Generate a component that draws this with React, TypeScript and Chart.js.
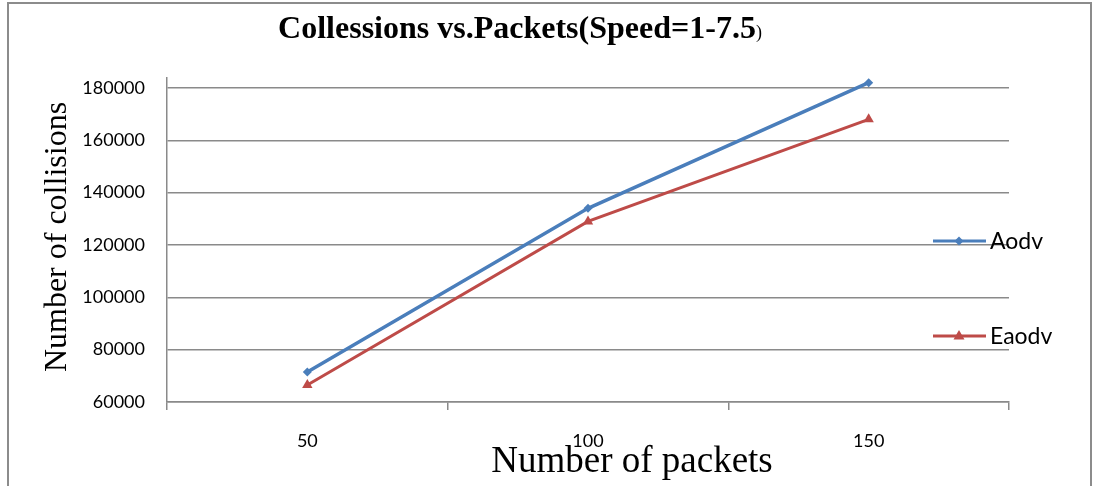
import React, { useEffect, useRef } from "react";
import { Chart, registerables } from "chart.js";

Chart.register(...registerables);

const categories = ["50", "100", "150"];
const aodvValues = [71500, 134000, 182000];
const eaodvValues = [66500, 129000, 168000];
const yTickValues = [60000, 80000, 100000, 120000, 140000, 160000, 180000];
const titleText = "Collessions vs.Packets(Speed=1-7.5";
const yTitle = "Number of collisions";
const xTitle = "Number of packets";
const seriesNames = ["Aodv", "Eaodv"];

const BLUE = "#4A7EBB";
const RED = "#BE4B48";
const GRID = "#8a8a8a";

const overlayPlugin = {
  id: "overlay",
  afterDraw(chart: any) {
    const ctx = chart.ctx;
    ctx.save();
    ctx.fillStyle = "#000";
    // Title
    ctx.font = "bold 32px 'Liberation Serif', 'Times New Roman', serif";
    ctx.textBaseline = "alphabetic";
    ctx.textAlign = "left";
    const w1 = ctx.measureText(titleText).width;
    ctx.font = "18px 'Liberation Serif', 'Times New Roman', serif";
    const w2 = ctx.measureText(")").width;
    const startX = 520 - (w1 + w2) / 2;
    ctx.font = "bold 32px 'Liberation Serif', 'Times New Roman', serif";
    ctx.fillText(titleText, startX, 38);
    ctx.font = "18px 'Liberation Serif', 'Times New Roman', serif";
    ctx.fillText(")", startX + w1, 38);

    // Y title
    ctx.save();
    ctx.translate(58, 237);
    ctx.rotate(-Math.PI / 2);
    ctx.textAlign = "center";
    ctx.textBaseline = "middle";
    ctx.font = "32px 'Liberation Serif', 'Times New Roman', serif";
    ctx.fillText(yTitle, 0, 0);
    ctx.restore();

    // X title
    ctx.textAlign = "center";
    ctx.textBaseline = "alphabetic";
    ctx.font = "37px 'Liberation Serif', 'Times New Roman', serif";
    ctx.fillText(xTitle, 632, 472);

    // Legend
    const items = [
      { name: seriesNames[0], color: BLUE, y: 241, shape: "diamond" },
      { name: seriesNames[1], color: RED, y: 336, shape: "triangle" },
    ];
    for (const it of items) {
      ctx.strokeStyle = it.color;
      ctx.lineWidth = 3;
      ctx.beginPath();
      ctx.moveTo(933, it.y);
      ctx.lineTo(986, it.y);
      ctx.stroke();
      ctx.fillStyle = it.color;
      ctx.beginPath();
      if (it.shape === "diamond") {
        ctx.moveTo(959, it.y - 4.5);
        ctx.lineTo(963.5, it.y);
        ctx.lineTo(959, it.y + 4.5);
        ctx.lineTo(954.5, it.y);
      } else {
        ctx.moveTo(959, it.y - 6);
        ctx.lineTo(964.5, it.y + 3.5);
        ctx.lineTo(953.5, it.y + 3.5);
      }
      ctx.closePath();
      ctx.fill();
      ctx.fillStyle = "#000";
      ctx.textAlign = "left";
      ctx.textBaseline = "middle";
      ctx.font = "23px Lato, 'Open Sans', sans-serif";
      ctx.fillText(it.name, 990, it.y + 1);
    }
    ctx.restore();
  },
};

export default function App() {
  const ref = useRef<HTMLCanvasElement | null>(null);
  useEffect(() => {
    if (!ref.current) return;
    const chart = new Chart(ref.current, {
      type: "line",
      data: {
        labels: categories,
        datasets: [
          {
            label: seriesNames[0],
            data: aodvValues,
            borderColor: BLUE,
            backgroundColor: BLUE,
            borderWidth: 3.5,
            pointStyle: "rectRot",
            pointRadius: 4.5,
            pointBorderWidth: 0,
            tension: 0,
          },
          {
            label: seriesNames[1],
            data: eaodvValues,
            borderColor: RED,
            backgroundColor: RED,
            borderWidth: 3,
            pointStyle: "triangle",
            pointRadius: 6,
            pointBorderWidth: 0,
            tension: 0,
          },
        ],
      },
      options: {
        responsive: false,
        animation: false,
        layout: { padding: { left: 0, right: 85, top: 78, bottom: 0 } },
        plugins: {
          legend: { display: false },
          title: { display: false },
          tooltip: { enabled: false },
        },
        scales: {
          x: {
            type: "category",
            offset: true,
            grid: {
              offset: true,
              drawOnChartArea: false,
              drawTicks: true,
              tickLength: 8,
              color: GRID,
              lineWidth: 1.5,
            },
            border: { display: true, color: GRID, width: 1.5 },
            ticks: {
              padding: 20,
              color: "#000",
              font: { family: "Lato, 'Open Sans', sans-serif", size: 18 },
              maxRotation: 0,
            },
            afterFit: (s: any) => {
              s.height = 84;
            },
          },
          y: {
            type: "linear",
            min: 60000,
            max: 183800,
            grid: {
              drawTicks: false,
              color: GRID,
              lineWidth: 1.5,
            },
            border: { display: true, color: GRID, width: 1.5 },
            ticks: {
              stepSize: 20000,
              includeBounds: false,
              padding: 22,
              color: "#000",
              font: { family: "Lato, 'Open Sans', sans-serif", size: 18 },
              callback: (v: any) => String(v),
            },
            afterBuildTicks: (s: any) => {
              s.ticks = yTickValues.map((v) => ({ value: v }));
            },
            afterFit: (s: any) => {
              s.width = 167;
            },
          },
        },
      },
      plugins: [overlayPlugin],
    });
    return () => chart.destroy();
  }, []);
  return (
    <div
      style={{
        position: "fixed",
        left: 0,
        top: 0,
        width: 1094,
        height: 486,
        background: "#fff",
        overflow: "hidden",
      }}
    >
      <div
        style={{
          position: "absolute",
          left: 7,
          top: 2,
          width: 1085,
          height: 500,
          border: "2px solid #8c8c8c",
          boxSizing: "border-box",
        }}
      />
      <canvas
        ref={ref}
        width={1094}
        height={486}
        style={{ position: "absolute", left: 0, top: 0 }}
      />
    </div>
  );
}
